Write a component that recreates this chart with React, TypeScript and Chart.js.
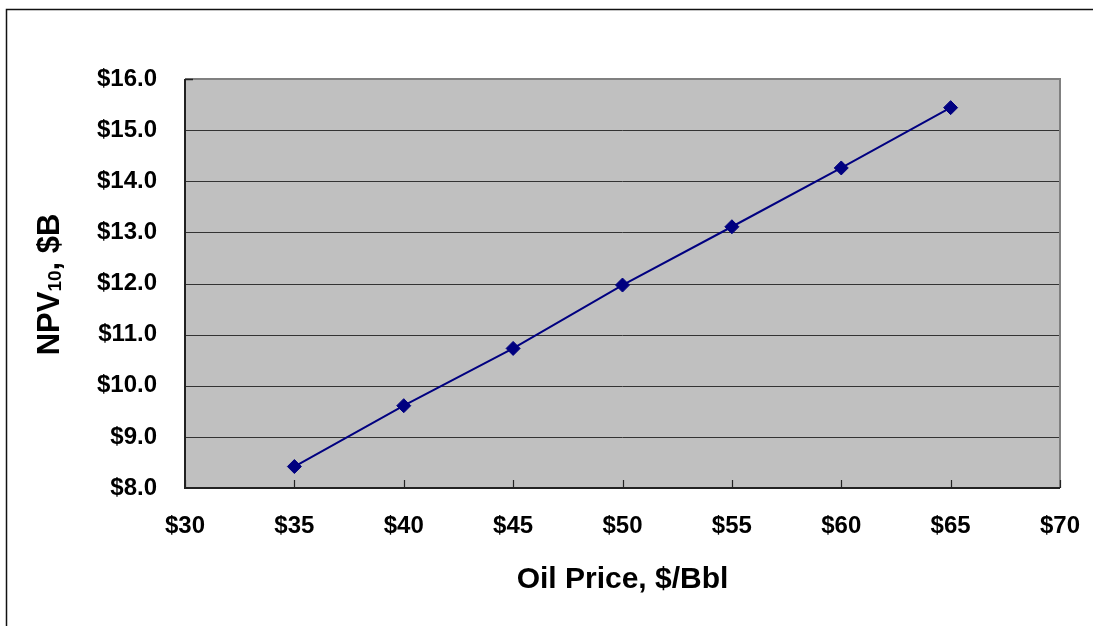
import React, { useEffect, useRef } from "react";
import { Chart, registerables } from "chart.js";

Chart.register(...registerables);

const oilPrices = [35, 40, 45, 50, 55, 60, 65];
const npv10 = [8.42, 9.61, 10.73, 11.97, 13.11, 14.26, 15.44];
const xTickLabelPrefix = "$";
const yTickDecimals = 1;
const xTitle = "Oil Price, $/Bbl";
const yTitleMain = "NPV";
const yTitleSub = "10";
const yTitleRest = ", $B";

const FONT = "'Liberation Sans', Arial, sans-serif";

const framePlugin = {
  id: "framePlugin",
  beforeDraw(chart: any) {
    const ctx = chart.ctx;
    ctx.save();
    ctx.fillStyle = "#ffffff";
    ctx.fillRect(0, 0, chart.width, chart.height);
    ctx.strokeStyle = "#111111";
    ctx.lineWidth = 1.5;
    ctx.strokeRect(6.5, 9.5, 3000, 3000);
    ctx.restore();
  },
  beforeDatasetsDraw(chart: any) {
    const ctx = chart.ctx;
    const { left, right, top, bottom } = chart.chartArea;
    const ys = chart.scales.y;
    const xs = chart.scales.x;
    ctx.save();
    ctx.fillStyle = "#c0c0c0";
    ctx.fillRect(left, top, right - left, bottom - top);
    ctx.strokeStyle = "#333333";
    ctx.lineWidth = 1;
    ys.ticks.forEach((t: any) => {
      const py = Math.round(ys.getPixelForValue(t.value)) + 0.5;
      if (t.value === ys.max || t.value === ys.min) return;
      ctx.beginPath();
      ctx.moveTo(left, py);
      ctx.lineTo(right, py);
      ctx.stroke();
    });
    ctx.strokeStyle = "#808080";
    ctx.lineWidth = 2;
    ctx.beginPath();
    ctx.moveTo(left, top);
    ctx.lineTo(right, top);
    ctx.lineTo(right, bottom);
    ctx.stroke();
    ctx.strokeStyle = "#222222";
    ctx.beginPath();
    ctx.moveTo(left, top);
    ctx.lineTo(left, bottom);
    ctx.lineTo(right, bottom);
    ctx.stroke();
    ctx.lineWidth = 1.5;
    ctx.beginPath();
    ctx.moveTo(left, top + 0.5);
    ctx.lineTo(left + 8, top + 0.5);
    ctx.stroke();
    ctx.lineWidth = 1.2;
    xs.ticks.forEach((t: any) => {
      const px = Math.round(xs.getPixelForValue(t.value)) + 0.5;
      ctx.beginPath();
      ctx.moveTo(px, bottom);
      ctx.lineTo(px, bottom - 8);
      ctx.stroke();
    });
    ctx.restore();
  },
  afterDraw(chart: any) {
    const ctx = chart.ctx;
    const { left, right, top, bottom } = chart.chartArea;
    ctx.save();
    ctx.fillStyle = "#000000";
    ctx.font = `bold 30px ${FONT}`;
    ctx.textAlign = "center";
    ctx.textBaseline = "alphabetic";
    ctx.fillText(xTitle, (left + right) / 2, 588);
    ctx.translate(59, (top + bottom) / 2 + 1);
    ctx.rotate(-Math.PI / 2);
    const mainFont = `bold 31px ${FONT}`;
    const subFont = `bold 19px ${FONT}`;
    ctx.font = mainFont;
    const w1 = ctx.measureText(yTitleMain).width;
    const w3 = ctx.measureText(yTitleRest).width;
    ctx.font = subFont;
    const w2 = ctx.measureText(yTitleSub).width;
    const total = w1 + w2 + w3;
    let x = -total / 2;
    ctx.textAlign = "left";
    ctx.font = mainFont;
    ctx.fillText(yTitleMain, x, 0);
    x += w1;
    ctx.font = subFont;
    ctx.fillText(yTitleSub, x, 2);
    x += w2;
    ctx.font = mainFont;
    ctx.fillText(yTitleRest, x, 0);
    ctx.restore();
  },
};

export default function App() {
  const ref = useRef<HTMLCanvasElement | null>(null);
  useEffect(() => {
    if (!ref.current) return;
    const chart = new Chart(ref.current, {
      type: "line",
      data: {
        datasets: [
          {
            data: oilPrices.map((p, i) => ({ x: p, y: npv10[i] })),
            borderColor: "#000080",
            backgroundColor: "#000080",
            borderWidth: 2,
            pointStyle: "rectRot",
            pointRadius: 7,
            pointBorderWidth: 1,
            pointBackgroundColor: "#000080",
            pointBorderColor: "#000080",
            tension: 0,
          },
        ],
      },
      options: {
        animation: false,
        responsive: false,
        layout: { padding: { left: 0, right: 33, top: 79, bottom: 0 } },
        plugins: { legend: { display: false }, tooltip: { enabled: false } },
        scales: {
          x: {
            type: "linear",
            min: 30,
            max: 70,
            afterFit: (s: any) => {
              s.height = 138;
              s.paddingLeft = 0;
              s.paddingRight = 0;
            },
            grid: { display: false, drawTicks: false },
            border: { display: false },
            ticks: {
              stepSize: 5,
              padding: 24,
              color: "#000",
              font: { family: FONT, size: 24, weight: "bold" },
              callback: (v: any) => xTickLabelPrefix + v,
            },
          },
          y: {
            min: 8,
            max: 16,
            afterFit: (s: any) => {
              s.width = 185;
              s.paddingTop = 0;
              s.paddingBottom = 0;
            },
            grid: { display: false, drawTicks: false },
            border: { display: false },
            ticks: {
              stepSize: 1,
              padding: 28,
              color: "#000",
              font: { family: FONT, size: 24, weight: "bold" },
              callback: (v: any) => "$" + Number(v).toFixed(yTickDecimals),
            },
          },
        },
      },
      plugins: [framePlugin],
    });
    return () => chart.destroy();
  }, []);
  return (
    <div style={{ position: "absolute", left: 0, top: 0, width: 1093, height: 626 }}>
      <canvas ref={ref} width={1093} height={626} />
    </div>
  );
}
